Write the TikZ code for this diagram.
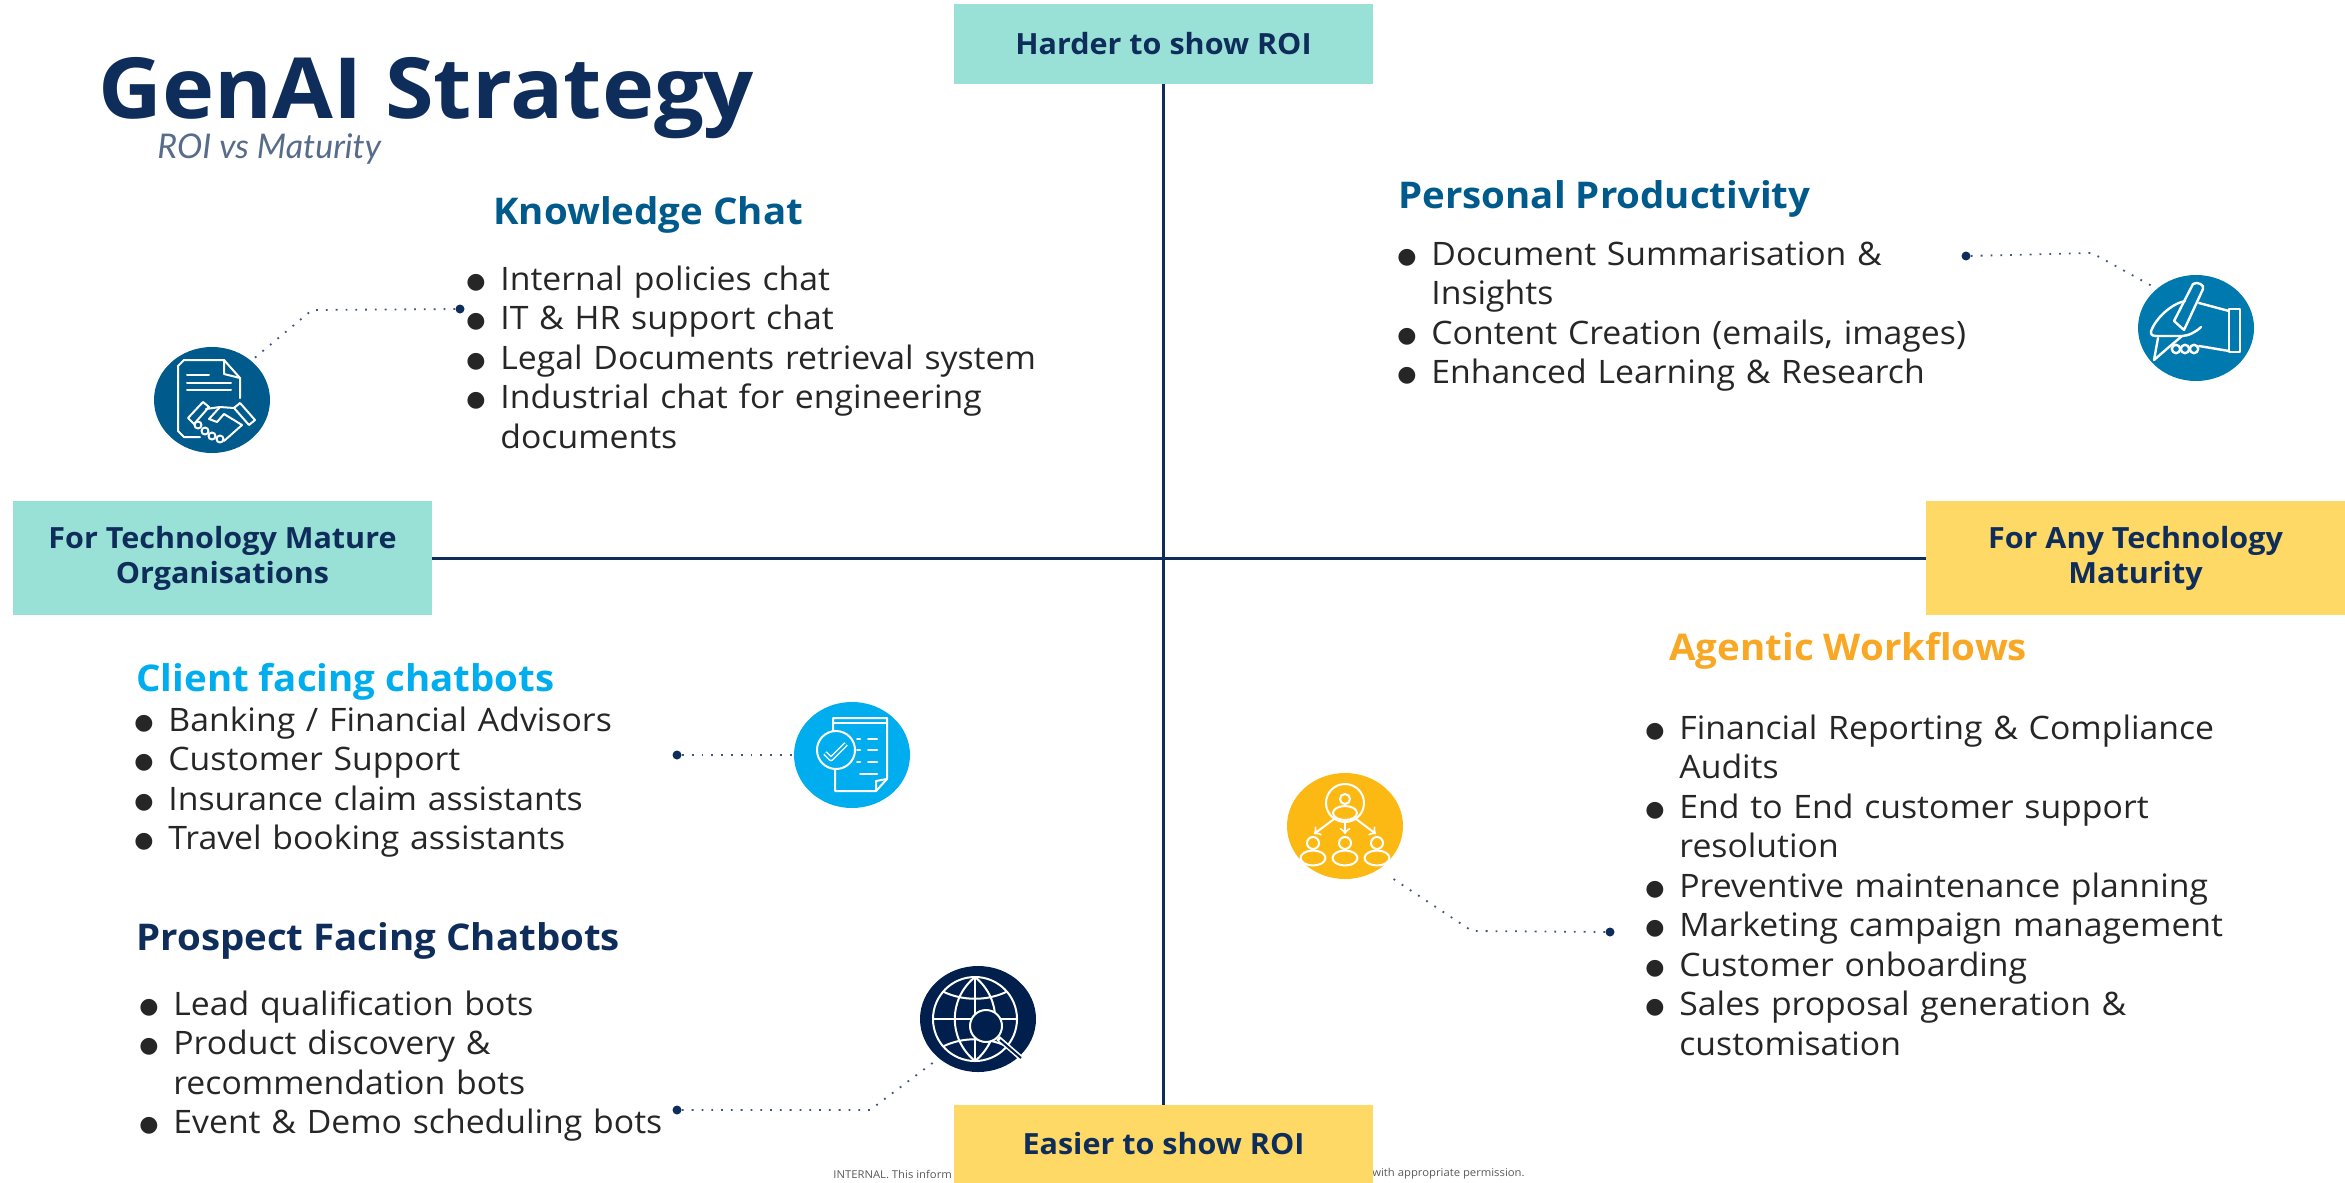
\documentclass[tikz,border=0pt]{standalone}
\usepackage{fontspec}
\setmainfont[FakeStretch=1.045]{Open Sans}
\newfontfamily\subfont{Lato}
\newfontfamily\dotfont{DejaVu Sans}
\usetikzlibrary{calc, positioning, arrows, shapes.geometric}

\definecolor{navyink}{HTML}{0F2D5A}
\definecolor{tealfill}{HTML}{99E0D6}
\definecolor{yellowfill}{HTML}{FFD966}
\definecolor{knowblue}{HTML}{005A8C}
\definecolor{penblue}{HTML}{0079AE}
\definecolor{clientblue}{HTML}{00AEEF}
\definecolor{globenavy}{HTML}{001F4D}
\definecolor{agentgold}{HTML}{FDB913}
\definecolor{headgold}{HTML}{F9A825}

\newcommand{\bl}[1]{\noindent\makebox[12.5pt][l]{\kern-4.5pt\raisebox{0.8pt}{\dotfont\fontsize{11}{11}\selectfont ●}}\strut #1\par}
\newcommand{\blc}[1]{\noindent\hspace*{12.5pt}\strut #1\par}

\tikzset{
    axisbox/.style={minimum width=209.5pt, inner sep=0pt, align=center, text=navyink,
        font=\fontsize{14.6}{17.5}\selectfont\bfseries},
    axisline/.style={navyink, line width=1.5pt},
    heading/.style={anchor=base west, inner sep=0pt, font=\fontsize{18.4}{22}\selectfont\bfseries},
    bulletlist/.style={anchor=north west, inner sep=0pt, align=left, text=black!85, text width=400pt,
        font=\fontsize{16.15}{19.75}\selectfont},
    iconbase/.style={ellipse, minimum width=58pt, minimum height=53pt, inner sep=0pt},
    iconline/.style={white, line width=1pt, line cap=round, line join=round},
    leader/.style={navyink!80, line width=0.9pt, dash pattern=on 0.9pt off 4pt},
    leaderdot/.style={circle, fill=navyink, minimum size=4.5pt, inner sep=0pt},
}

\begin{document}
\begin{tikzpicture}[x=0.5pt, y=-0.5pt]
    \useasboundingbox (0,0) rectangle (2345,1183);

    % Footer (runs under the bottom box)
    \node[anchor=west, inner sep=0pt, text=black!65, font=\fontsize{5.4}{6}\selectfont] (footLeft) at (833,1174) {INTERNAL. This inform};
    \node[anchor=east, inner sep=0pt, text=black!65, font=\fontsize{5.4}{6}\selectfont] (footRight) at (1525,1174) {with appropriate permission.};

    % Axis boxes
    \node[axisbox, fill=tealfill, minimum height=40pt] (topBox) at (1163.5,44) {Harder to show ROI};
    \node[axisbox, fill=yellowfill, minimum height=39pt] (bottomBox) at (1163.5,1144) {Easier to show ROI};
    \node[axisbox, fill=tealfill, minimum height=57pt] (leftBox) at (222.5,558) {For Technology Mature\\Organisations};
    \node[axisbox, fill=yellowfill, minimum height=57pt] (rightBox) at (2135.5,558) {For Any Technology\\Maturity};

    % Axes
    \draw[axisline] (topBox) -- (bottomBox);
    \draw[axisline] (leftBox) -- (rightBox);

    % Title
    \node[anchor=base west, inner sep=0pt, text=navyink, font=\fontsize{42.2}{46}\selectfont\bfseries] (titleText) at (98,118) {GenAI Strategy};
    \node[anchor=base west, inner sep=0pt, text=navyink!70, font=\subfont\fontsize{17}{19}\selectfont\itshape] (subText) at (157,158) {ROI vs Maturity};

    % Knowledge Chat
    \node[heading, text=knowblue] (knowHead) at (493,224) {Knowledge Chat};
    \node[bulletlist] (knowList) at (475,262) {%
        \bl{Internal policies chat}
        \bl{IT \& HR support chat}
        \bl{Legal Documents retrieval system}
        \bl{Industrial chat for engineering}
        \blc{documents}};

    % Personal Productivity
    \node[heading, text=knowblue] (prodHead) at (1398,208) {Personal Productivity};
    \node[bulletlist] (prodList) at (1406,237) {%
        \bl{Document Summarisation \&}
        \blc{Insights}
        \bl{Content Creation (emails, images)}
        \bl{Enhanced Learning \& Research}};

    % Client facing chatbots
    \node[heading, text=clientblue] (clientHead) at (136,691) {Client facing chatbots};
    \node[bulletlist] (clientList) at (143,703) {%
        \bl{Banking / Financial Advisors}
        \bl{Customer Support}
        \bl{Insurance claim assistants}
        \bl{Travel booking assistants}};

    % Prospect Facing Chatbots
    \node[heading, text=navyink] (prospHead) at (136,950) {Prospect Facing Chatbots};
    \node[bulletlist] (prospList) at (148,987) {%
        \bl{Lead qualification bots}
        \bl{Product discovery \&}
        \blc{recommendation bots}
        \bl{Event \& Demo scheduling bots}};

    % Agentic Workflows
    \node[heading, text=headgold] (agentHead) at (1669,660) {Agentic Workflows};
    \node[bulletlist] (agentList) at (1654,711) {%
        \bl{Financial Reporting \& Compliance}
        \blc{Audits}
        \bl{End to End customer support}
        \blc{resolution}
        \bl{Preventive maintenance planning}
        \bl{Marketing campaign management}
        \bl{Customer onboarding}
        \bl{Sales proposal generation \&}
        \blc{customisation}};

    % Icon discs
    \node[iconbase, fill=knowblue] (knowIcon) at (212,400) {};
    \node[iconbase, fill=penblue] (penIcon) at (2196,328) {};
    \node[iconbase, fill=clientblue] (clientIcon) at (852,755) {};
    \node[iconbase, fill=globenavy] (globeIcon) at (978,1019) {};
    \node[iconbase, fill=agentgold] (agentIcon) at (1345,826) {};

    % Leaders
    \node[leaderdot] (knowDot) at (460,309) {};
    \node[leaderdot] (penDot) at (1966,256) {};
    \node[leaderdot] (clientDot) at (677,755) {};
    \node[leaderdot] (globeDot) at (677,1110) {};
    \node[leaderdot] (agentDot) at (1610,932) {};
    \coordinate (knowBend) at (312,310);
    \coordinate (penBend) at (2092,253);
    \coordinate (globeBend) at (870,1110);
    \coordinate (agentBend) at (1472,931);
    \coordinate (agentEnd) at (1392,878);
    \draw[leader] (knowDot) -- (knowBend) -- (knowIcon.45);
    \draw[leader] (penDot) -- (penBend) -- (penIcon.135);
    \draw[leader] (clientDot) -- (clientIcon);
    \draw[leader] (globeDot) -- (globeBend) -- (globeIcon.225);
    \draw[leader] (agentDot) -- (agentBend) -- (agentEnd);

    % Document and handshake
    \begin{scope}[shift={(knowIcon.center)}, iconline]
        \draw (-12,37) -- (-28,37) -- (-34,31) -- (-34,-34) -- (-28,-40) -- (12,-40) -- (28,-22) -- (28,-2);
        \draw (12,-40) -- (12,-26) -- (28,-22);
        \draw (-25,-25) -- (-3,-25);
        \draw (-25,-17) -- (19,-17);
        \draw (-25,-10) -- (19,-10);
        \draw (-24,18) -- (-9,2) -- (-3,7) -- (-18,24) -- cycle;
        \draw (28,3) -- (43,20) -- (37,25) -- (22,8) -- cycle;
        \draw (-6,9) -- (8,7) -- (22,8);
        \draw (8,7) -- (-3,19) -- (5,22) -- (12,14) -- (30,25);
        \draw (30,25) -- (12,41);
        \foreach \fx/\fy in {-14/25,-7/31,0/36,8/39}
            \draw (\fx,\fy) circle (3.5);
    \end{scope}

    % Writing hand
    \begin{scope}[shift={(penIcon.center)}, iconline, line width=1.2pt]
        \draw (33,-19) rectangle (44,24);
        \draw (-3,-44) -- (-22,-7);
        \draw (7,-39) -- (-12,2) -- (-22,-7);
        \draw (-3,-44) .. controls (1,-47) and (9,-43) .. (7,-39);
        \draw (-11,-27) .. controls (-25,-24) and (-40,-10) .. (-45,3) .. controls (-46,8) and (-42,8) .. (-38,8) -- (-14,8) .. controls (-8,8) and (0,4) .. (5,-1);
        \draw (-38,10) -- (-42,32) -- (-27,19) -- (-14,8);
        \draw (3,-25) -- (33,-17);
        \draw (3,18) -- (33,23);
        \foreach \fx in {-20,-11,-2}
            \draw (\fx,21) circle (4.2);
    \end{scope}

    % Checklist
    \begin{scope}[shift={(clientIcon.center)}, iconline]
        \draw (-19,-22) -- (-19,-37) -- (35,-37) -- (35,24) -- (24,36) -- (-17,36) -- (-17,14);
        \draw (-19,-32) -- (35,-32);
        \draw (24,36) -- (24,26) -- (35,24);
        \draw[fill=clientblue] (-16,-5) circle (19);
        \draw[line width=2.4pt, line cap=butt] (-27,-2) -- (-21,4) -- (-6,-11);
        \draw[clientblue, line width=0.9pt, line cap=butt] (-27,-2) -- (-21,4) -- (-6,-11);
        \draw (5,-16) -- (8,-16) (16,-16) -- (25,-16);
        \draw (5,-5) -- (8,-5) (16,-5) -- (25,-5);
        \draw (5,7) -- (8,7) (16,7) -- (25,7);
        \draw (8,19) -- (25,19);
    \end{scope}

    % Globe and lens
    \begin{scope}[shift={(globeIcon.center)}, iconline]
        \draw (-3,0) circle (42);
        \draw (-3,-42) .. controls (-30,-20) and (-30,20) .. (-3,42);
        \draw (-3,-42) .. controls (24,-20) and (24,20) .. (-3,42);
        \draw (-3,-42) -- (-3,42);
        \draw (-45,0) -- (39,0);
        \draw (-34,-27) .. controls (-15,-18) and (9,-18) .. (28,-27);
        \draw (-34,27) .. controls (-15,18) and (9,18) .. (28,27);
        \draw[fill=globenavy] (8,7) circle (16);
        \draw[line width=2.6pt, line cap=butt] (20,19) -- (43,39);
        \draw[globenavy, line width=1pt, line cap=butt] (22,21) -- (43,39);
    \end{scope}

    % People tree
    \begin{scope}[shift={(agentIcon.center)}, iconline]
        \draw (0,-23) circle (19);
        \draw (0,-27) circle (5);
        \draw (0,-13) ellipse (12 and 7);
        \foreach \px in {-32,0,32} {
            \draw (\px,17) circle (6);
            \draw (\px,32) ellipse (12.5 and 7.5);
        }
        \draw[->] (-11,-7) -- (-31,8);
        \draw[->] (0,-6) -- (0,8);
        \draw[->] (11,-7) -- (31,8);
    \end{scope}
\end{tikzpicture}
\end{document}
